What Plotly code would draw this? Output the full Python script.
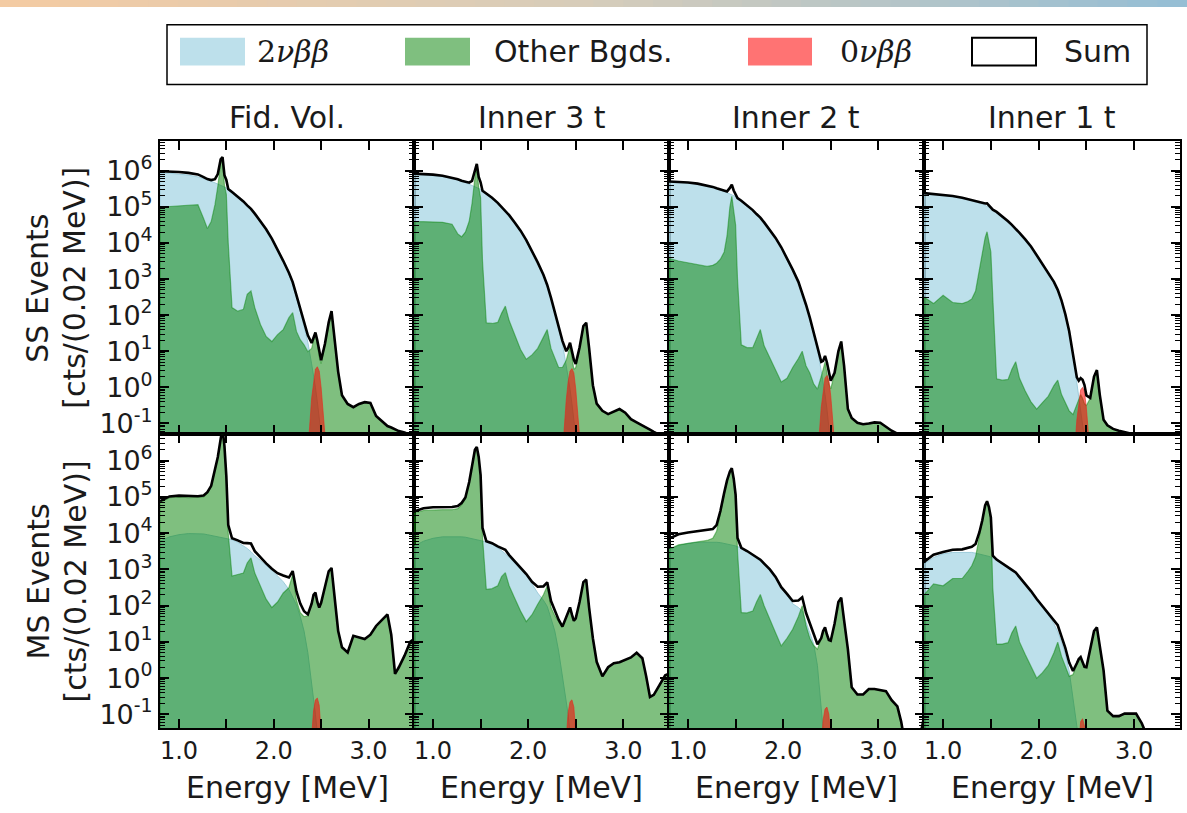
import plotly.graph_objects as go

# Energy bins (MeV) shared by every spectrum
ENERGY = [0.80, 0.90, 1.00, 1.10, 1.20, 1.26, 1.30, 1.34, 1.38, 1.41,
          1.44, 1.46, 1.48, 1.50, 1.52, 1.56, 1.62, 1.68, 1.72, 1.76,
          1.80, 1.86, 1.92, 1.98, 2.04, 2.10, 2.16, 2.20, 2.24, 2.28,
          2.32, 2.36, 2.40, 2.42, 2.44, 2.46, 2.48, 2.50, 2.54, 2.58,
          2.61, 2.64, 2.68, 2.72, 2.78, 2.84, 2.90, 2.96, 3.02, 3.08,
          3.14, 3.20, 3.24, 3.28, 3.32, 3.38, 3.44, 3.48]
# Energy bins around Q(bb) used by the 0vbb peak
ENERGY_0NU = [2.36, 2.40, 2.42, 2.44, 2.46, 2.48, 2.50, 2.54]

REGIONS = ["Fid. Vol.", "Inner 3 t", "Inner 2 t", "Inner 1 t"]

# log10(cts / 0.02 MeV); None = no contribution in that bin
SS_FID_2NU = [5.94, 5.93, 5.91, 5.88, 5.83, 5.79, 5.75, 5.71, 5.67, 5.64,
              5.61, 5.58, 5.55, 5.52, 5.48, 5.41, 5.29, 5.15, 5.04, 4.94,
              4.81, 4.60, 4.38, 4.12, 3.83, 3.50, 3.15, 2.85, 2.50, 2.11,
              1.70, 1.25, 0.65, 0.35, 0.00, -0.40, -0.80, -1.30, -2.40] + [None] * 19
SS_FID_BG = [4.99, 5.01, 5.03, 5.05, 5.06, 4.68, 4.40, 4.59, 5.06, 5.57,
             6.22, 6.30, 5.60, 5.35, 4.00, 2.21, 2.11, 2.16, 2.58, 2.67,
             2.21, 1.74, 1.41, 1.27, 1.46, 1.60, 1.93, 2.07, 1.55, 1.32,
             1.18, 0.99, 1.08, 1.30, 1.46, 1.20, 0.85, 0.66, 1.20, 1.80,
             2.11, 1.30, 0.43, -0.22, -0.46, -0.55, -0.46, -0.41, -0.43, -0.79,
             -0.93, -1.07, -1.11, -1.16, -1.21, -1.25, -1.33, -1.36]
SS_FID_0NU = [-1.8, -0.3, 0.2, 0.5, 0.57, 0.45, 0.0, -1.3]

SS_3T_2NU = [5.90, 5.89, 5.87, 5.84, 5.79, 5.75, 5.71, 5.67, 5.63, 5.60,
             5.57, 5.54, 5.51, 5.48, 5.44, 5.37, 5.25, 5.11, 5.00, 4.90,
             4.77, 4.56, 4.34, 4.08, 3.79, 3.46, 3.11, 2.81, 2.46, 2.07,
             1.66, 1.20, 0.60, 0.30, -0.05, -0.45, -0.85, -1.35, -2.45] + [None] * 19
SS_3T_BG = [4.59, 4.59, 4.59, 4.57, 4.52, 4.25, 4.17, 4.30, 4.60, 5.10,
            5.80, 6.08, 5.55, 5.25, 3.50, 1.79, 1.77, 1.80, 2.05, 2.25,
            1.85, 1.45, 1.05, 0.78, 0.90, 1.08, 1.40, 1.60, 1.08, 0.80,
            0.55, 0.55, 0.75, 0.95, 1.13, 0.85, 0.50, 0.55, 1.10, 1.70,
            1.79, 1.10, 0.06, -0.45, -0.65, -0.74, -0.68, -0.60, -0.70, -0.88,
            -0.97, -1.05, -1.10, -1.17, -1.23, -1.32, -1.40, -1.43]
SS_3T_0NU = [-1.85, -0.35, 0.15, 0.45, 0.52, 0.40, -0.05, -1.35]

SS_2T_2NU = [5.70, 5.69, 5.67, 5.64, 5.59, 5.55, 5.51, 5.47, 5.43, 5.40,
             5.37, 5.34, 5.31, 5.28, 5.24, 5.17, 5.05, 4.91, 4.80, 4.70,
             4.57, 4.36, 4.14, 3.88, 3.59, 3.26, 2.92, 2.62, 2.28, 1.92,
             1.50, 1.05, 0.45, 0.15, -0.20, -0.60, -1.00, -1.50, -2.60] + [None] * 19
SS_2T_BG = [3.57, 3.50, 3.45, 3.41, 3.35, 3.38, 3.44, 3.55, 3.75, 4.20,
            5.00, 5.29, 4.90, 4.50, 3.00, 1.18, 1.10, 1.10, 1.35, 1.60,
            1.15, 0.80, 0.50, 0.15, 0.25, 0.55, 0.80, 1.00, 0.60, 0.40,
            0.10, -0.05, 0.30, 0.50, 0.70, 0.40, 0.10, -0.04, 0.40, 1.00,
            1.27, 0.60, -0.60, -0.85, -0.98, -1.02, -1.00, -0.97, -0.98, -1.10,
            -1.20, -1.28, -1.33, -1.39, -1.50, -1.60, -1.70, -1.80]
SS_2T_0NU = [-2.0, -0.55, -0.05, 0.26, 0.33, 0.21, -0.24, -1.55]

SS_1T_2NU = [5.38, 5.36, 5.33, 5.30, 5.25, 5.21, 5.18, 5.15, 5.11, 5.08,
             5.04, 5.02, 4.99, 4.96, 4.92, 4.86, 4.74, 4.60, 4.50, 4.40,
             4.28, 4.10, 3.90, 3.66, 3.42, 3.18, 2.92, 2.70, 2.40, 2.02,
             1.55, 0.90, 0.15, -0.20, -0.50, -0.90, -1.30, -1.80, -2.80] + [None] * 19
SS_1T_BG = [2.50, 2.32, 2.55, 2.35, 2.32, 2.38, 2.45, 2.67, 3.25, 3.70,
            4.15, 4.31, 4.00, 3.75, 2.50, 0.24, 0.20, 0.22, 0.50, 0.71,
            0.25, -0.10, -0.40, -0.60, -0.42, -0.25, 0.05, 0.20, -0.20, -0.45,
            -0.65, -0.75, -0.45, -0.30, -0.20, -0.30, -0.45, -0.50, -0.30, 0.30,
            0.48, -0.20, -0.90, -1.05, -1.15, -1.20, -1.24, -1.28, -1.35, -1.50,
            -1.70, -1.90, -2.00, -2.00, -2.00, -2.00, -2.00, -2.00]
SS_1T_0NU = [-2.4, -0.9, -0.4, -0.07, 0.0, -0.12, -0.57, -1.9]

MS_FID_2NU = [3.78, 3.90, 3.96, 3.99, 3.99, 3.98, 3.96, 3.94, 3.92, 3.90,
              3.88, 3.87, 3.86, 3.85, 3.84, 3.82, 3.75, 3.66, 3.58, 3.49,
              3.38, 3.25, 3.12, 2.98, 2.82, 2.66, 2.45, 2.25, 2.02, 1.70,
              1.30, 0.70, -0.10, -0.50, -1.00, -1.50, -2.00, -2.60] + [None] * 20
MS_FID_BG = [4.85, 4.98, 5.00, 4.98, 4.98, 5.00, 5.10, 5.29, 5.74, 6.10,
             6.60, 6.90, 6.40, 5.56, 4.00, 2.82, 2.86, 2.90, 3.18, 3.32,
             2.90, 2.54, 2.18, 1.95, 2.10, 2.35, 2.50, 2.86, 2.15, 1.81,
             1.70, 1.72, 2.05, 2.30, 2.36, 2.10, 1.95, 2.08, 2.50, 2.95,
             3.04, 2.20, 1.30, 0.85, 0.71, 1.17, 1.12, 1.08, 1.20, 1.44,
             1.60, 1.76, 1.20, 0.12, 0.30, 0.62, 1.00, 1.08]
MS_FID_0NU = [-3.0, -1.6, -0.9, -0.6, -0.55, -0.75, -1.3, -3.0]

MS_3T_2NU = [3.64, 3.78, 3.86, 3.90, 3.91, 3.91, 3.90, 3.89, 3.87, 3.85,
             3.83, 3.82, 3.81, 3.80, 3.78, 3.76, 3.70, 3.60, 3.52, 3.43,
             3.33, 3.18, 3.03, 2.85, 2.60, 2.35, 2.15, 1.98, 1.65, 1.30,
             0.75, 0.10, -0.60, -1.00, -1.50, -2.00, -2.50, -3.00] + [None] * 20
MS_3T_BG = [4.55, 4.63, 4.65, 4.65, 4.65, 4.68, 4.78, 4.95, 5.40, 5.85,
            6.30, 6.38, 6.10, 5.60, 3.90, 2.45, 2.47, 2.55, 2.80, 2.91,
            2.55, 2.20, 1.85, 1.56, 1.75, 2.04, 2.30, 2.54, 1.95, 1.72,
            1.55, 1.40, 1.70, 1.85, 1.95, 1.75, 1.58, 1.65, 2.10, 2.65,
            2.72, 1.95, 1.10, 0.45, 0.05, 0.30, 0.41, 0.44, 0.50, 0.57,
            0.70, 0.55, 0.05, -0.52, -0.46, -0.20, 0.08, 0.12]
MS_3T_0NU = [-3.0, -1.65, -0.95, -0.65, -0.6, -0.8, -1.35, -3.0]

MS_2T_2NU = [3.55, 3.66, 3.72, 3.75, 3.76, 3.76, 3.75, 3.74, 3.72, 3.71,
             3.69, 3.68, 3.66, 3.65, 3.63, 3.59, 3.50, 3.40, 3.32, 3.22,
             3.13, 2.98, 2.78, 2.50, 2.30, 2.05, 1.95, 1.85, 1.55, 1.25,
             0.95, 0.35, -0.80, -1.40, -2.00, -2.60, -3.20] + [None] * 21
MS_2T_BG = [3.55, 3.68, 3.72, 3.75, 3.80, 3.86, 4.05, 4.55, 5.10, 5.45,
            5.70, 5.79, 5.50, 5.05, 3.50, 1.81, 1.80, 1.85, 2.10, 2.31,
            2.00, 1.65, 1.25, 0.89, 1.10, 1.35, 1.70, 2.00, 1.45, 1.10,
            0.90, 0.80, 1.10, 1.30, 1.40, 1.20, 1.05, 1.03, 1.50, 2.10,
            2.22, 1.60, 0.80, -0.25, -0.45, -0.45, -0.30, -0.30, -0.32, -0.36,
            -0.61, -0.78, -1.20, -1.80, -2.00, -2.00, -1.60, -1.07]
MS_2T_0NU = [-3.0, -1.9, -1.15, -0.85, -0.8, -1.0, -1.55, -3.0]

MS_1T_2NU = [3.15, 3.33, 3.43, 3.47, 3.48, 3.48, 3.47, 3.45, 3.43, 3.41,
             3.39, 3.38, 3.36, 3.34, 3.32, 3.27, 3.17, 3.06, 2.98, 2.90,
             2.78, 2.60, 2.40, 2.18, 1.98, 1.75, 1.50, 1.28, 1.00, 0.65,
             0.20, -0.50, -1.30, -1.70, -2.20, -2.70, -3.20] + [None] * 21
MS_1T_BG = [2.30, 2.60, 2.55, 2.75, 2.75, 2.95, 3.10, 3.35, 3.90, 4.30,
            4.75, 4.87, 4.70, 4.40, 2.50, 0.94, 0.94, 0.98, 1.25, 1.44,
            1.00, 0.65, 0.30, 0.00, 0.15, 0.35, 0.70, 0.99, 0.60, 0.35,
            0.05, 0.10, 0.40, 0.52, 0.57, 0.45, 0.30, 0.30, 0.80, 1.30,
            1.40, 0.90, 0.21, -0.90, -1.05, -1.05, -0.98, -0.98, -0.98, -1.25,
            -1.60, -2.00, -2.00, -2.00, -2.00, -2.00, -2.00, -2.00]
MS_1T_0NU = [-3.0, -2.5, -1.7, -1.2, -1.12, -1.32, -2.0, -3.0]

PANELS = [
    (0, 0, SS_FID_2NU, SS_FID_BG, SS_FID_0NU),
    (0, 1, SS_3T_2NU, SS_3T_BG, SS_3T_0NU),
    (0, 2, SS_2T_2NU, SS_2T_BG, SS_2T_0NU),
    (0, 3, SS_1T_2NU, SS_1T_BG, SS_1T_0NU),
    (1, 0, MS_FID_2NU, MS_FID_BG, MS_FID_0NU),
    (1, 1, MS_3T_2NU, MS_3T_BG, MS_3T_0NU),
    (1, 2, MS_2T_2NU, MS_2T_BG, MS_2T_0NU),
    (1, 3, MS_1T_2NU, MS_1T_BG, MS_1T_0NU),
]

# ---- styling / geometry --------------------------------------------------
W, H = 1187, 813
COL_EDGES = [160, 414, 669, 924, 1180]     # px
ROW_EDGES = [142, 437, 733]                # px
X_RANGE = [0.80, 3.48]
Y_RANGE = [[-1.30, 6.82], [-1.39, 6.73]]   # log10
BASE = 1e-6

C_2NU = "rgba(173,216,230,0.8)"
C_BG = "rgba(0,128,0,0.5)"
C_0NU = "rgba(255,0,0,0.55)"
FONT = "DejaVu Sans"
TXT = "#1a1a1a"


def px_x(p):
    return p / W


def px_y(p):
    return 1 - p / H


def to_counts(logs):
    return [None if v is None else 10 ** v for v in logs]


def closed_polygon(xs, ys):
    pts = [(x, y) for x, y in zip(xs, ys) if y is not None]
    px = [pts[0][0]] + [p[0] for p in pts] + [pts[-1][0]]
    py = [BASE] + [p[1] for p in pts] + [BASE]
    return px, py


def label(text, x, y, size=30, family=FONT, angle=0, xanchor="center"):
    return dict(text=text, x=px_x(x), y=px_y(y), xref="paper", yref="paper",
                xanchor=xanchor, yanchor="middle", showarrow=False,
                textangle=angle, font=dict(family=family, size=size, color=TXT))


fig = go.Figure()
layout = {}
minor_vals = [k * 10 ** n for n in range(-2, 8) for k in range(2, 10)]
major_vals = [10 ** n for n in range(-1, 7)]
major_text = ["10<sup>%d</sup>" % n for n in range(-1, 7)]

for k, (r, c, two_nu, other, zero_nu) in enumerate(PANELS, start=1):
    xa = "x" if k == 1 else "x%d" % k
    ya = "y" if k == 1 else "y%d" % k

    c2 = to_counts(two_nu)
    cb = to_counts(other)
    c0 = to_counts(zero_nu)
    total = [(a or 0.0) + (b or 0.0) for a, b in zip(c2, cb)]
    start = ENERGY.index(ENERGY_0NU[0])
    for j, v in enumerate(c0):
        total[start + j] += v

    px2, py2 = closed_polygon(ENERGY, c2)
    fig.add_trace(go.Scatter(x=px2, y=py2, fill="toself", fillcolor=C_2NU,
                             line=dict(color="rgba(150,200,215,0.9)", width=1),
                             mode="lines", hoverinfo="skip", showlegend=False,
                             xaxis=xa, yaxis=ya))
    pxb, pyb = closed_polygon(ENERGY, cb)
    fig.add_trace(go.Scatter(x=pxb, y=pyb, fill="toself", fillcolor=C_BG,
                             line=dict(color="rgba(0,128,0,0.45)", width=1.2),
                             mode="lines", hoverinfo="skip", showlegend=False,
                             xaxis=xa, yaxis=ya))
    px0, py0 = closed_polygon(ENERGY_0NU, c0)
    fig.add_trace(go.Scatter(x=px0, y=py0, fill="toself", fillcolor=C_0NU,
                             line=dict(color="rgba(230,40,30,0.6)", width=1),
                             mode="lines", hoverinfo="skip", showlegend=False,
                             xaxis=xa, yaxis=ya))
    fig.add_trace(go.Scatter(x=ENERGY, y=total, mode="lines",
                             line=dict(color="black", width=2.6),
                             hoverinfo="skip", showlegend=False,
                             xaxis=xa, yaxis=ya))

    axis_common = dict(showline=True, linecolor="black", linewidth=2,
                       mirror="allticks", ticks="inside", tickcolor="black",
                       showgrid=False, zeroline=False)
    layout["xaxis" if k == 1 else "xaxis%d" % k] = dict(
        axis_common,
        domain=[px_x(COL_EDGES[c]), px_x(COL_EDGES[c + 1])],
        range=X_RANGE, anchor=ya,
        tickmode="array", tickvals=[1.0, 2.0, 3.0],
        ticktext=["1.0", "2.0", "3.0"],
        showticklabels=(r == 1), ticklen=9, tickwidth=1.5,
        tickfont=dict(family=FONT, size=24, color=TXT),
        minor=dict(tickmode="array", tickvals=[1.5, 2.5], ticks="inside",
                   ticklen=9, tickwidth=1.5, tickcolor="black", showgrid=False),
    )
    layout["yaxis" if k == 1 else "yaxis%d" % k] = dict(
        axis_common,
        type="log",
        domain=[px_y(ROW_EDGES[r + 1]), px_y(ROW_EDGES[r])],
        range=Y_RANGE[r], anchor=xa,
        tickmode="array", tickvals=major_vals, ticktext=major_text,
        showticklabels=(c == 0), ticklen=9, tickwidth=1.5,
        tickfont=dict(family=FONT, size=27, color=TXT),
        minor=dict(tickmode="array", tickvals=minor_vals, ticks="inside",
                   ticklen=5, tickwidth=1, tickcolor="black", showgrid=False),
    )

annotations = []
shapes = []

# Column titles and energy axis titles
for c, name in enumerate(REGIONS):
    cx = (COL_EDGES[c] + COL_EDGES[c + 1]) / 2
    annotations.append(label(name, cx, 118))
    annotations.append(label("Energy [MeV]", cx, 792))

# Row titles
for r, name in enumerate(["SS Events", "MS Events"]):
    cy = (ROW_EDGES[r] + ROW_EDGES[r + 1]) / 2
    annotations.append(label(name, 38, cy, angle=-90))
    annotations.append(label("[cts/(0.02 MeV)]", 75, cy, angle=-90))

# Legend box
shapes.append(dict(type="rect", xref="paper", yref="paper",
                   x0=px_x(167), x1=px_x(1147), y0=px_y(85), y1=px_y(25),
                   line=dict(color="black", width=1.5), fillcolor="white"))
legend_items = [
    (180, 245, C_2NU, "rgba(0,0,0,0)", "2<i>νββ</i>", 255, "DejaVu Serif"),
    (405, 470, C_BG, "rgba(0,0,0,0)", "Other Bgds.", 492, FONT),
    (748, 812, C_0NU, "rgba(0,0,0,0)", "0<i>νββ</i>", 838, "DejaVu Serif"),
    (972, 1036, "white", "black", "Sum", 1062, FONT),
]
for x0, x1, fc, lc, text, tx, fam in legend_items:
    shapes.append(dict(type="rect", xref="paper", yref="paper",
                       x0=px_x(x0), x1=px_x(x1), y0=px_y(66), y1=px_y(38),
                       fillcolor=fc, line=dict(color=lc, width=2)))
    annotations.append(label(text, tx, 52, family=fam, xanchor="left"))

# Thin colour band along the top edge
n_band = 40
band_left = (243, 203, 163)
band_mid = (214, 204, 186)
band_right = (150, 190, 212)
for i in range(n_band):
    t = i / (n_band - 1)
    if t < 0.5:
        a, b, s = band_left, band_mid, t / 0.5
    else:
        a, b, s = band_mid, band_right, (t - 0.5) / 0.5
    col = "rgb(%d,%d,%d)" % tuple(round(a[j] + (b[j] - a[j]) * s) for j in range(3))
    shapes.append(dict(type="rect", xref="paper", yref="paper",
                       x0=i / n_band, x1=(i + 1) / n_band + 0.002,
                       y0=px_y(7), y1=1.0, fillcolor=col, line=dict(width=0),
                       layer="below"))

fig.update_layout(
    width=W, height=H, autosize=False,
    margin=dict(l=0, r=0, t=0, b=0),
    paper_bgcolor="white", plot_bgcolor="white",
    annotations=annotations, shapes=shapes,
    **layout,
)

fig.write_html("out.html")
